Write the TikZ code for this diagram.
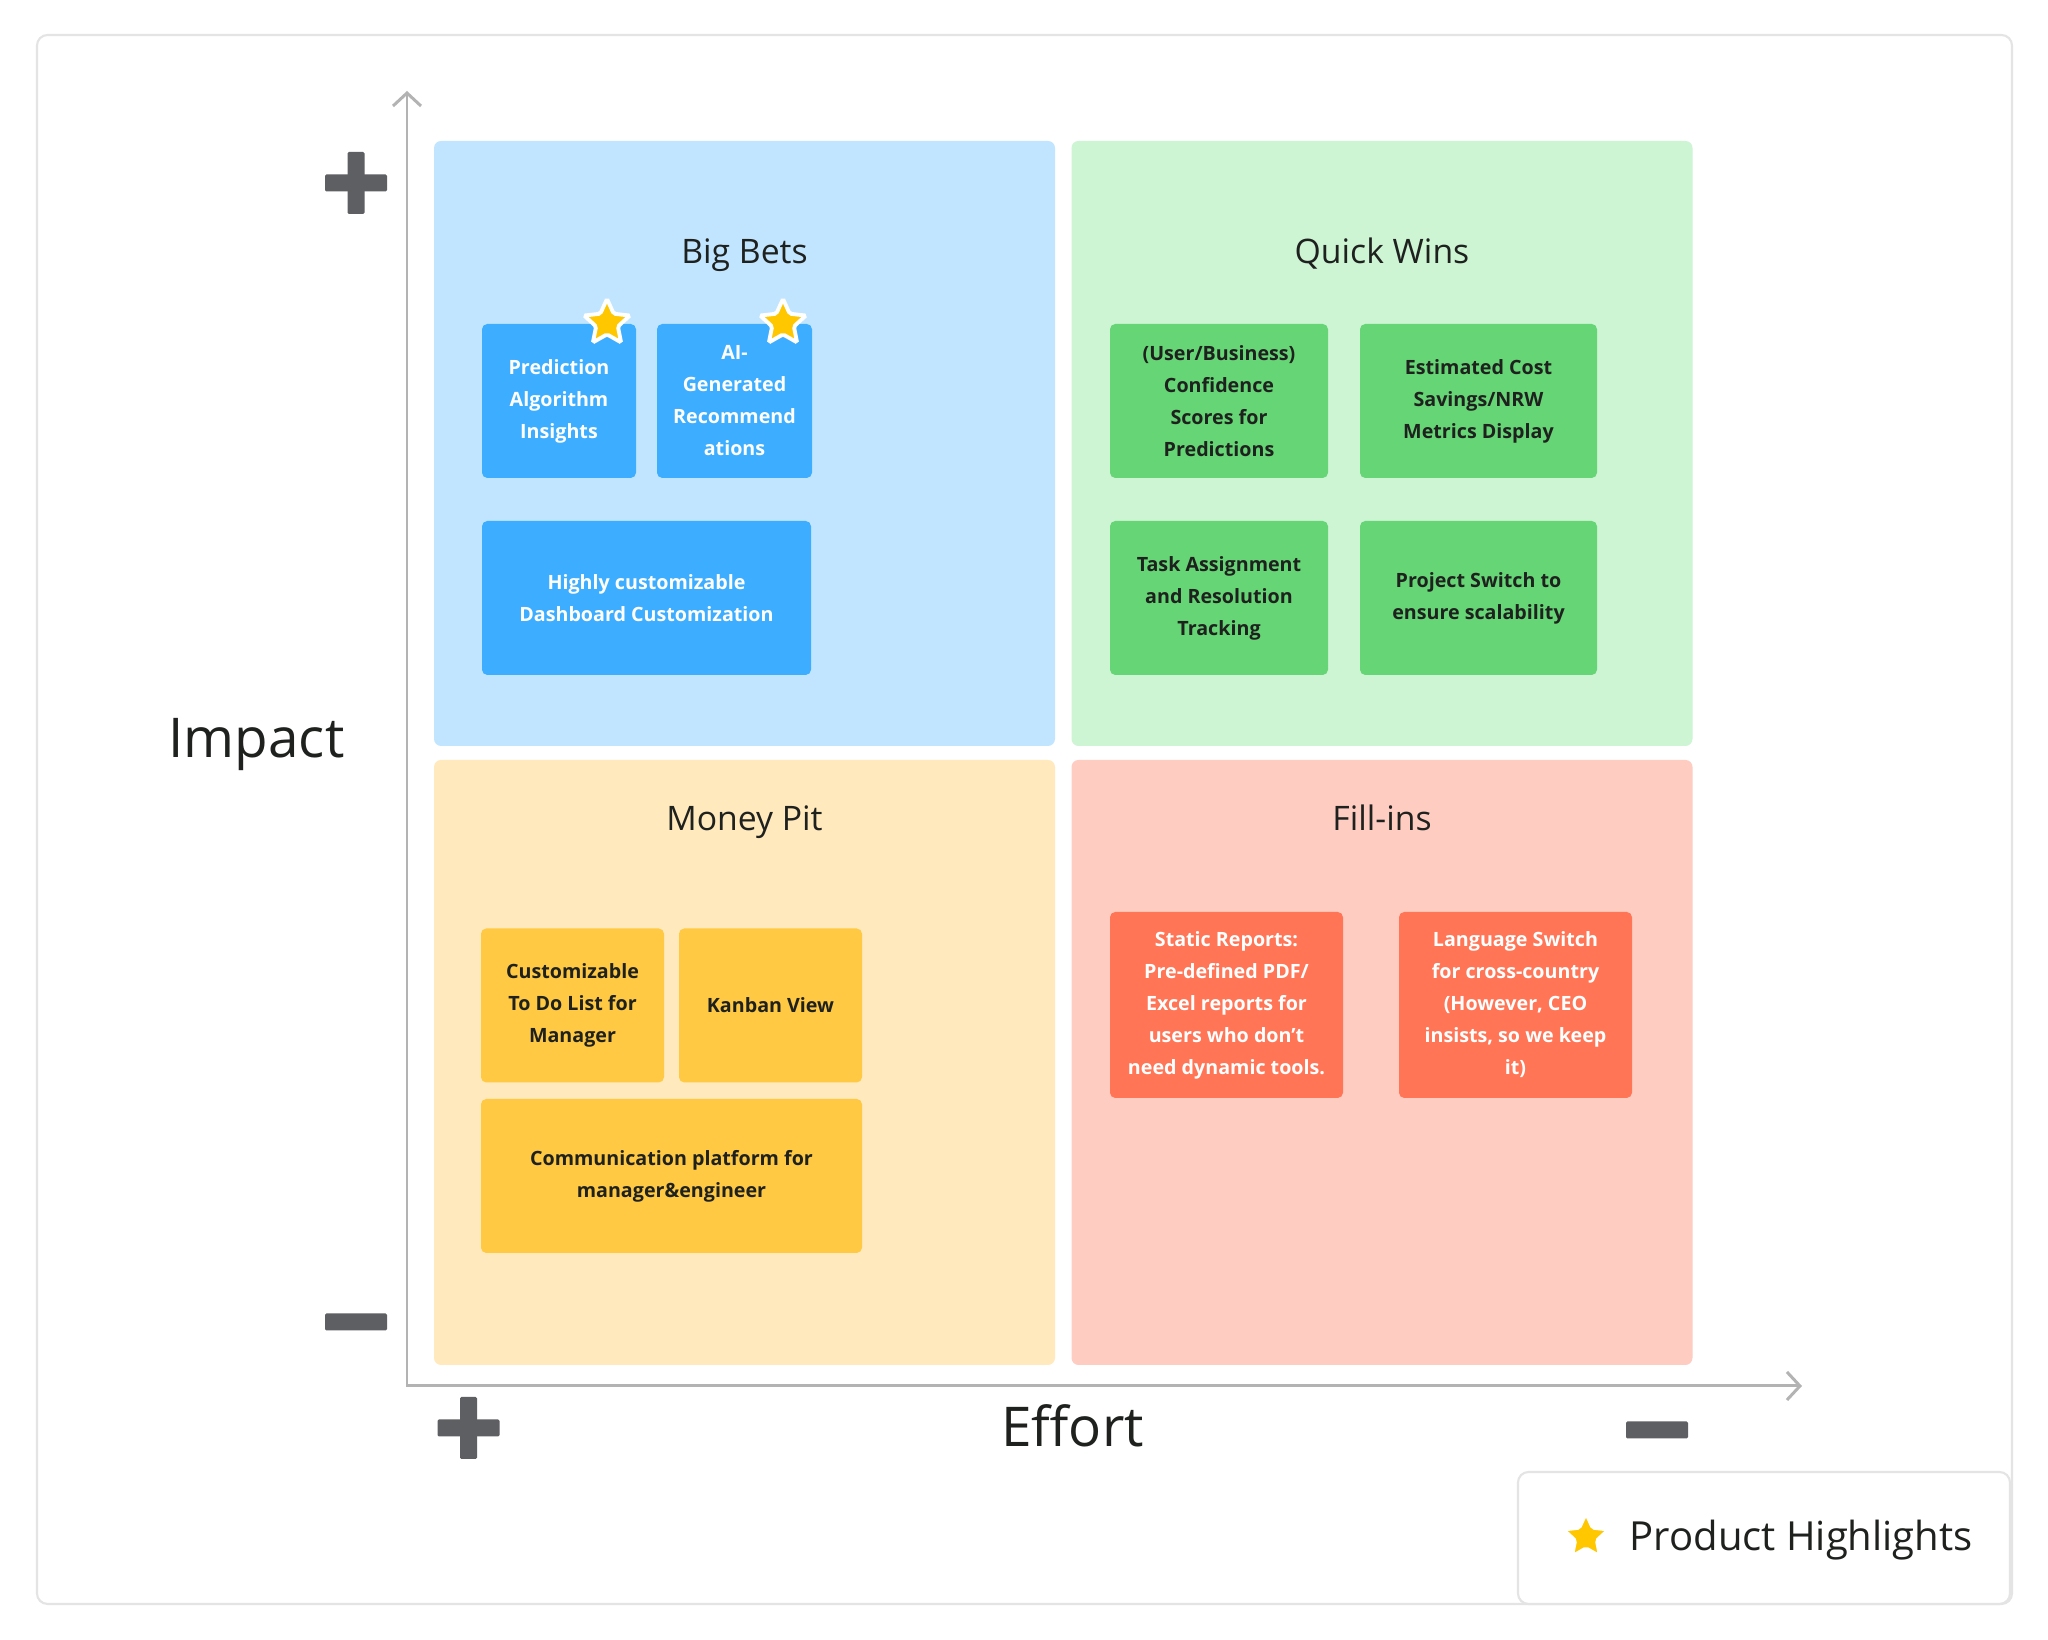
\documentclass[tikz,border=0pt]{standalone}
\usepackage{fontspec}
\setmainfont{Open Sans}
\usetikzlibrary{arrows.meta,shapes.geometric}

\definecolor{ink}{HTML}{1E211E}
\definecolor{frameGray}{HTML}{E4E4E4}
\definecolor{axisGray}{HTML}{B3B3B3}
\definecolor{iconGray}{HTML}{5E5F63}
\definecolor{starYellow}{HTML}{FFC700}
\definecolor{bbBg}{HTML}{C2E5FF}
\definecolor{bbCard}{HTML}{3DADFF}
\definecolor{qwBg}{HTML}{CDF4D3}
\definecolor{qwCard}{HTML}{66D575}
\definecolor{mpBg}{HTML}{FFE9BD}
\definecolor{mpCard}{HTML}{FFC943}
\definecolor{fiBg}{HTML}{FFCCC2}
\definecolor{fiCard}{HTML}{FF7556}

\begin{document}
\begin{tikzpicture}[
    font=\normalsize,
    frame/.style={draw=frameGray, line width=0.6pt, rounded corners=3pt},
    quad/.style={rectangle, rounded corners=2pt, minimum width=62.1mm, minimum height=60.5mm, inner sep=0pt},
    title/.style={font=\fontsize{9.6}{11}\selectfont, color=ink, anchor=base},
    axislabel/.style={font=\fontsize{15.6}{18}\selectfont, color=ink, anchor=base},
    card/.style={rectangle, rounded corners=1.5pt, align=center, inner sep=0pt, minimum height=15.4mm, font=\fontsize{5.6}{9.1}\selectfont\bfseries},
    bluecard/.style={card, fill=bbCard, text=white},
    greencard/.style={card, fill=qwCard, text=ink},
    yellowcard/.style={card, fill=mpCard, text=ink},
    redcard/.style={card, fill=fiCard, text=white, minimum height=18.6mm},
    hilite/.style={star, star points=5, star point ratio=2.1, fill=starYellow, draw=white, line width=1.1pt, minimum size=4.8mm, inner sep=0pt, rounded corners=0.5pt},
    hbar/.style={rectangle, fill=iconGray, rounded corners=0.4pt, minimum width=6.2mm, minimum height=1.7mm, inner sep=0pt},
    vbar/.style={rectangle, fill=iconGray, rounded corners=0.4pt, minimum width=1.7mm, minimum height=6.2mm, inner sep=0pt},
    axis/.style={<->, line width=0.85pt, color=axisGray},
    >={Straight Barb[length=1.3mm, width=2.8mm, line width=0.85pt]},
    legendbox/.style={draw=frameGray, line width=0.6pt, fill=white, rounded corners=3pt, minimum width=49.2mm, minimum height=13.2mm, inner sep=0pt},
]
    \useasboundingbox[fill=white] (0,0) rectangle (20.48,16.40);
    \draw[frame] (0.37,0.36) rectangle (20.12,16.05);

    % ============= Quadrants =============
    \node[quad, fill=bbBg] (bigBets) at (7.445, 11.965) {};
    \node[quad, fill=qwBg] (quickWins) at (13.82, 11.965) {};
    \node[quad, fill=mpBg] (moneyPit) at (7.445, 5.775) {};
    \node[quad, fill=fiBg] (fillIns) at (13.82, 5.775) {};

    \node[title] (titleBB) at (7.445, 13.76) {Big Bets};
    \node[title] (titleQW) at (13.82, 13.76) {Quick Wins};
    \node[title] (titleMP) at (7.445, 8.09) {Money Pit};
    \node[title] (titleFI) at (13.82, 8.09) {Fill-ins};

    % ============= Axes =============
    \coordinate (origin) at (4.07, 2.54);
    \coordinate (yTop) at (4.07, 15.49);
    \coordinate (xEnd) at (18.02, 2.54);
    \draw[axis] (yTop) -- (origin) -- (xEnd);

    \node[axislabel] (impact) at (2.565, 8.82) {Impact};
    \node[axislabel] (effort) at (10.725, 1.93) {Effort};

    \node[hbar] (impHi) at (3.56, 14.57) {};
    \node[vbar] at (impHi) {};
    \node[hbar] (impLo) at (3.56, 3.18) {};
    \node[hbar] (effHi) at (4.685, 2.12) {};
    \node[vbar] at (effHi) {};
    \node[hbar] (effLo) at (16.57, 2.10) {};

    % ============= Big Bets =============
    \node[bluecard, minimum width=15.4mm] (predAlgo) at (5.59, 12.39) {Prediction\\Algorithm\\Insights};
    \node[bluecard, minimum width=15.5mm] (aiRec) at (7.345, 12.39) {AI-\\Generated\\Recommend\\ations};
    \node[bluecard, minimum width=32.9mm] (dashCust) at (6.465, 10.42) {Highly customizable\\Dashboard Customization};
    \node[hilite] (starPred) at (6.07, 13.17) {};
    \node[hilite] (starAi) at (7.83, 13.17) {};

    % ============= Quick Wins =============
    \node[greencard, minimum width=21.8mm] (confScores) at (12.19, 12.39) {(User/Business)\\Confidence\\Scores for\\Predictions};
    \node[greencard, minimum width=23.7mm] (costSave) at (14.785, 12.39) {Estimated Cost\\Savings/NRW\\Metrics Display};
    \node[greencard, minimum width=21.8mm] (taskTrack) at (12.19, 10.42) {Task Assignment\\and Resolution\\Tracking};
    \node[greencard, minimum width=23.7mm] (projSwitch) at (14.785, 10.42) {Project Switch to\\ensure scalability};

    % ============= Money Pit =============
    \node[yellowcard, minimum width=18.3mm] (todoList) at (5.725, 6.345) {Customizable\\To Do List for\\Manager};
    \node[yellowcard, minimum width=18.3mm] (kanban) at (7.705, 6.345) {Kanban View};
    \node[yellowcard, minimum width=38.1mm] (commPlat) at (6.715, 4.64) {Communication platform for\\manager\&engineer};

    % ============= Fill-ins =============
    \node[redcard, minimum width=23.3mm] (staticRep) at (12.265, 6.35) {Static Reports:\\Pre-defined PDF/\\Excel reports for\\users who don’t\\need dynamic tools.};
    \node[redcard, minimum width=23.3mm] (langSwitch) at (15.155, 6.35) {Language Switch\\for cross-country\\(However, CEO\\insists, so we keep\\it)};

    % Legend
    \node[legendbox] (legend) at (17.64, 1.02) {};
    \node[hilite] (starLegend) at (15.86, 1.03) {};
    \node[font=\fontsize{11.4}{13}\selectfont, color=ink, anchor=base west, inner sep=0pt] (legendText) at (16.29, 0.89) {Product Highlights};
\end{tikzpicture}
\end{document}
